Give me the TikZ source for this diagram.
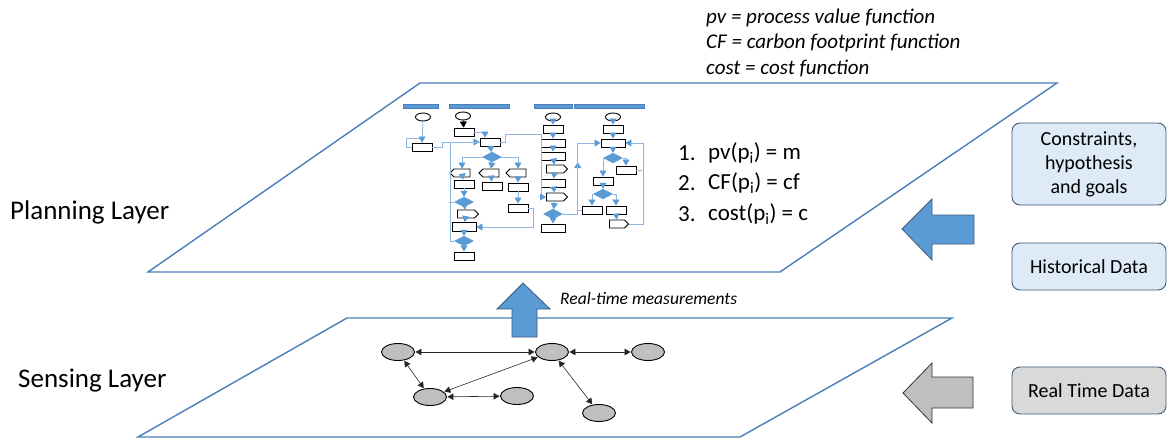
\documentclass[tikz,border=0pt]{standalone}
\usepackage{fontspec}
\setmainfont{Carlito}
\usetikzlibrary{shapes.geometric,shapes.symbols,arrows.meta}
\definecolor{layerc}{HTML}{4A7EBB}
\definecolor{fillblue}{HTML}{5B9BD5}
\definecolor{flowline}{HTML}{8DB8E2}
\definecolor{boxblue}{HTML}{DEEBF7}
\definecolor{boxborder}{HTML}{3C5A78}
\definecolor{greyfill}{HTML}{BFBFBF}
\definecolor{lightgrey}{HTML}{D9D9D9}
\tikzset{
  layer/.style={draw=layerc, line width=1.4pt, line join=miter},
  lbl/.style={anchor=west, inner sep=0pt, font=\fontsize{27}{31}\selectfont},
  legend/.style={anchor=west, inner sep=0pt, font=\fontsize{21}{25}\selectfont\itshape},
  listtxt/.style={anchor=west, inner sep=0pt, font=\fontsize{23}{27}\selectfont},
  sidebox/.style={draw=boxborder, line width=0.9pt, rounded corners=8pt, fill=boxblue, minimum width=154pt, align=center, font=\fontsize{20}{24}\selectfont, inner sep=2pt},
  bigarrow/.style={draw=boxborder, line width=0.8pt, fill=fillblue},
  greyarrow/.style={draw=black!80, line width=0.8pt, fill=greyfill},
  snode/.style={ellipse, draw=black, line width=0.9pt, fill=greyfill, minimum width=33pt, minimum height=17pt, inner sep=0pt},
  sedge/.style={draw=black!85, line width=0.6pt, {Triangle[width=6.5pt,length=6pt]}-{Triangle[width=6.5pt,length=6pt]}, shorten <=0.5pt, shorten >=0.5pt},
  fhead/.style={fill=fillblue, draw=layerc, line width=0.4pt, minimum height=4pt, inner sep=0pt},
  fr/.style={draw=black, line width=0.9pt, fill=white, minimum width=20pt, minimum height=8pt, inner sep=0pt},
  fw/.style={fr, minimum width=24pt},
  fe/.style={ellipse, draw=black, line width=0.9pt, fill=white, minimum width=15pt, minimum height=8pt, inner sep=0pt},
  fd/.style={diamond, fill=fillblue, draw=fillblue, minimum width=19pt, minimum height=10pt, inner sep=0pt},
  fs/.style={signal, signal to=east, draw=black, line width=0.9pt, fill=white, minimum width=21pt, minimum height=8pt, inner sep=0pt},
  fsw/.style={signal, signal to=west, draw=black, line width=0.9pt, fill=white, minimum width=20pt, minimum height=8pt, inner sep=0pt},
  fl/.style={draw=flowline, line width=0.8pt},
  fa/.style={fl, -{Triangle[width=7pt,length=6pt,color=fillblue]}},
}
\begin{document}
\begin{tikzpicture}[x=1pt,y=-1pt]
\useasboundingbox (0,0) rectangle (1167,439);

% layers
\draw[layer] (420,83) -- (1057,83) -- (780,272) -- (148,272) -- cycle;
\draw[layer] (347,318) -- (952,318) -- (740,437) -- (138,437) -- cycle;

\node[lbl] (pl) at (10,212) {Planning Layer};
\node[lbl] (sl) at (18,381) {Sensing Layer};

% legend
\node[legend] (lg1) at (706,18) {pv = process value function};
\node[legend] (lg2) at (706,43) {CF = carbon footprint function};
\node[legend] (lg3) at (706,68) {cost = cost function};

% list
\node[listtxt] (n1) at (678,153) {1.};
\node[listtxt] (n2) at (678,183) {2.};
\node[listtxt] (n3) at (678,214) {3.};
\node[listtxt] (t1) at (708,153) {pv(p\textsubscript{i}) = m};
\node[listtxt] (t2) at (708,183) {CF(p\textsubscript{i}) = cf};
\node[listtxt] (t3) at (708,214) {cost(p\textsubscript{i}) = c};

% side boxes
\node[sidebox, minimum height=82pt] (cons) at (1089,164) {Constraints,\\hypothesis\\and goals};
\node[sidebox, minimum height=47pt] (hist) at (1089,266.5) {Historical Data};
\node[sidebox, minimum height=47pt, fill=lightgrey] (rtd) at (1089,390.5) {Real Time Data};

% big arrows
\draw[bigarrow] (902,229) -- (932,199) -- (932,215) -- (974,215) -- (974,244) -- (932,244) -- (932,260) -- cycle;
\draw[greyarrow] (903,393) -- (932,363) -- (932,377) -- (973,377) -- (973,408) -- (932,408) -- (932,423) -- cycle;
\draw[bigarrow] (523,283) -- (550,309) -- (537,309) -- (537,337) -- (512,337) -- (512,309) -- (497,309) -- cycle;
\node[anchor=west, inner sep=0pt, font=\fontsize{17.5}{20}\selectfont\itshape] (rtm) at (560,298) {Real-time measurements};

% sensing graph
\node[snode] (sa) at (398,352) {};
\node[snode] (sb) at (552,352) {};
\node[snode] (sc) at (648,352) {};
\node[snode] (sd) at (430,397) {};
\node[snode] (se) at (517,396) {};
\node[snode] (sf) at (599,413) {};
\draw[sedge] (sa) -- (sb);
\draw[sedge] (sb) -- (sc);
\draw[sedge] (sa) -- (sd);
\draw[sedge] (sd) -- (sb);
\draw[sedge] (sd) -- (se);
\draw[sedge] (sb) -- (sf);

% flowchart headers
\node[fhead, minimum width=35pt] (h1) at (420.5,106) {};
\node[fhead, minimum width=60pt] (h2) at (479,106) {};
\node[fhead, minimum width=38pt] (h3) at (553,106) {};
\node[fhead, minimum width=70pt] (h4) at (609,106) {};

% lane 1
\node[fe] (e1) at (423,117) {};
\node[fr] (r1) at (422,147) {};
% lane 2
\node[fe] (e2) at (463,116) {};
\node[fr] (r2a) at (464,132) {};
\node[fr] (r2b) at (490,142) {};
\node[fd] (d2a) at (492,157) {};
\node[fsw] (h2a) at (462,173) {};
\node[fsw] (h2b) at (491,173) {};
\node[fsw] (h2c) at (518,173) {};
\node[fr] (r2c) at (464,184) {};
\node[fr] (r2d) at (492,186) {};
\node[fr] (r2e) at (518,187) {};
\node[fr] (r2f) at (518,208) {};
\node[fd] (d2b) at (464,202) {};
\node[fs] (h2d) at (466,214) {};
\node[fw, minimum height=9pt] (r2g) at (464,227) {};
\node[fd] (d2c) at (464,241) {};
\node[fr] (r2h) at (464,256) {};
% lane 3
\node[fe] (e3) at (553,117) {};
\node[fr] (r3a) at (553,129) {};
\node[fw] (r3b) at (553,143) {};
\node[fw] (r3c) at (553,156) {};
\node[fs] (h3a) at (555,169) {};
\node[fw] (r3d) at (553,183) {};
\node[fs] (h3b) at (555,197) {};
\node[fd] (d3) at (553,214) {};
\node[fw] (r3e) at (553,228) {};
% lane 4
\node[fe] (e4) at (613,117) {};
\node[fr] (r4a) at (613,129) {};
\node[fw] (r4b) at (613,143) {};
\node[fd] (d4a) at (613,158) {};
\node[fr] (r4c) at (626,170) {};
\node[fr] (r4d) at (603,181) {};
\node[fd] (d4b) at (603,194) {};
\node[fr] (r4e) at (592,210) {};
\node[fr] (r4f) at (616,210) {};
\node[fs, minimum width=19pt] (h4s) at (617,224) {};

% lane 1 connectors
\draw[fl] (e1) -- (r1);
\draw[fa] (r1.west) -- ++(-5,0) -- ++(-0,-9) -| (r1.north);
\draw[fa] (r1.east) -- ++(10,0) |- (r2b.west);
% lane 2 connectors
\draw[-{Triangle[width=7pt,length=6pt]}, black, line width=0.8pt] (e2) -- (r2a);
\draw[fa] (r2a.east) -| ([xshift=-5pt]r2b.north);
\draw[fa] (r2b) -- (d2a);
\draw[fa] (d2a.west) -| (h2a.north);
\draw[fa] (d2a.south) -- (h2b.north);
\draw[fa] (d2a.east) -| (h2c.north);
\draw[fa] (h2a) -- (r2c);
\draw[fa] (h2b) -- (r2d);
\draw[fa] (h2c) -- (r2e);
\draw[fa] (r2e) -- (r2f);
\draw[fa] (r2c) -- (d2b);
\draw[fa] (d2b) -- (h2d);
\draw[fa] (h2d) -- (r2g);
\draw[fa] (r2g) -- (d2c);
\draw[fa] (d2c) -- (r2h);
\draw[fl] (d2c.west) -| ([xshift=-3pt]r2c.west) |- (r2b.west);
\draw[fl] (d2b.west) -- ++(-5,0);
\draw[fa] (r2f.east) -- ++(5,0) |- (r2g.east);
\draw[fa] (r2b.east) -- ++(5,0) -- ++(0,-8) -- ++(36,0) |- (h3b.west);
% lane 3 connectors
\draw[fa] (e3) -- (r3a);
\draw[fa] (r3a) -- (r3b);
\draw[fa] (r3b) -- (r3c);
\draw[fa] (r3c) -- (h3a);
\draw[fa] (h3a) -- (r3d);
\draw[fa] (r3d) -- (h3b);
\draw[fa] (h3b) -- (d3);
\draw[fa] (d3) -- (r3e);
\draw[fa] (d3.east) -- ++(15,0) -- ++(0,-52);
% lane 4 connectors
\draw[fa] (e4) -- (r4a);
\draw[fa] (r4a) -- (r4b);
\draw[fa] (r4b) -- (d4a);
\draw[fa] (d4a.east) -| (r4c.north);
\draw[fa] (d4a.west) -| (r4d.north);
\draw[fa] (r4d) -- (d4b);
\draw[fa] (d4b.west) -| (r4e.north);
\draw[fa] (d4b.east) -| (r4f.north);
\draw[fa] (r4f) -- (h4s);
\draw[fa] (h4s.east) -- ++(14,0) |- (r4b.east);
\draw[fl] (r4c.east) -- ++(6,0);
\draw[fa] (r4e.west) -- ++(-4,0) |- (r4b.west);
\end{tikzpicture}
\end{document}
